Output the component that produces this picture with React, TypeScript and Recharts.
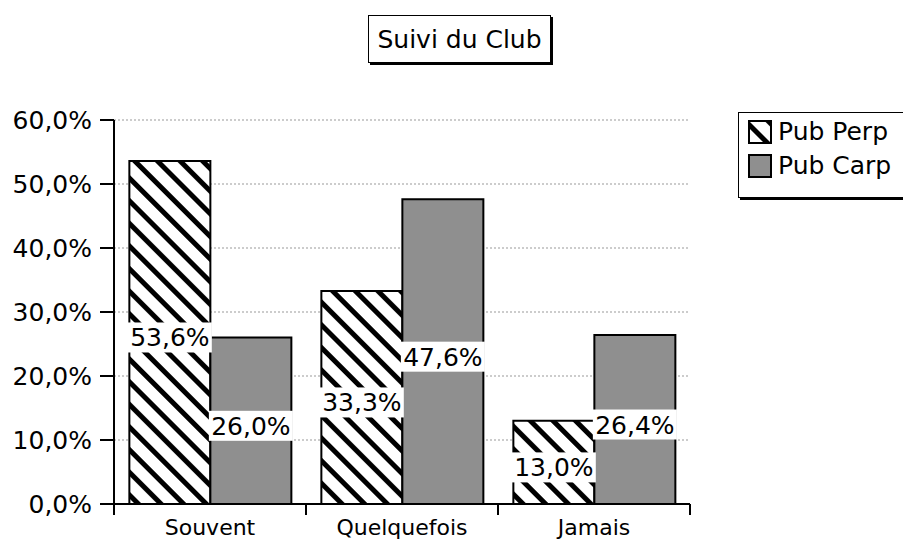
import { Bar, BarChart, CartesianGrid, LabelList, XAxis, YAxis } from 'recharts';

const categories = ['Souvent', 'Quelquefois', 'Jamais'];
const pubPerp = [53.6, 33.3, 13.0];
const pubCarp = [26.0, 47.6, 26.4];
const yTicks = [0, 10, 20, 30, 40, 50, 60];
const seriesNames = ['Pub Perp', 'Pub Carp'];
const title = 'Suivi du Club';

const data = categories.map((name, i) => ({ name, perp: pubPerp[i], carp: pubCarp[i] }));

const FONT = '"DejaVu Sans", Verdana, sans-serif';
const GRAY = '#8f8f8f';
const PLOT_LEFT = 114;
const PLOT_RIGHT = 690;
const BAND = (PLOT_RIGHT - PLOT_LEFT) / categories.length;

const fmt = (v: number) => `${v.toFixed(1).replace('.', ',')}%`;

function XTick(props: any) {
  const { x, y, payload, index } = props;
  const last = index === categories.length - 1;
  return (
    <g>
      <line x1={x - BAND / 2} y1={y} x2={x - BAND / 2} y2={y + 11} stroke="#000" strokeWidth={2} />
      {last && <line x1={x + BAND / 2} y1={y} x2={x + BAND / 2} y2={y + 11} stroke="#000" strokeWidth={2} />}
      <text x={x} y={y + 31} textAnchor="middle" fontSize={22} fontFamily={FONT} fill="#000">
        {payload.value}
      </text>
    </g>
  );
}

function ValueLabel(props: any) {
  const { x, y, width, height, value } = props;
  const cx = x + width / 2;
  const cy = y + height / 2 + 5;
  const w = 84;
  const h = 30;
  return (
    <g>
      <rect x={cx - w / 2} y={cy - h / 2} width={w} height={h} fill="#fff" />
      <text x={cx} y={cy + 9} textAnchor="middle" fontSize={25} fontFamily={FONT} fill="#000">
        {fmt(value)}
      </text>
    </g>
  );
}

function Swatch({ hatched }: { hatched: boolean }) {
  return (
    <svg width={24} height={24} style={{ display: 'block' }}>
      <defs>
        <pattern id="hatchLegend" patternUnits="userSpaceOnUse" width={16} height={16} patternTransform="rotate(45)">
          <rect width={16} height={16} fill="#fff" />
          <rect width={16} height={5} fill="#000" />
        </pattern>
      </defs>
      <rect x={1} y={1} width={22} height={22} fill={hatched ? 'url(#hatchLegend)' : GRAY} stroke="#000" strokeWidth={2} />
    </svg>
  );
}

export default function App() {
  return (
    <div style={{ position: 'absolute', left: 0, top: 0, width: 903, height: 546, background: '#fff', fontFamily: FONT }}>
      <div
        style={{
          position: 'absolute',
          left: 368,
          top: 15,
          width: 181,
          height: 46,
          border: '1.5px solid #000',
          boxShadow: '2px 2px 0 #000',
          display: 'flex',
          alignItems: 'center',
          justifyContent: 'center',
          fontSize: 25,
        }}
      >
        {title}
      </div>

      <div
        style={{
          position: 'absolute',
          left: 738,
          top: 112,
          width: 180,
          height: 84,
          border: '1.5px solid #000',
          boxShadow: '2px 2px 0 #000',
          background: '#fff',
          fontSize: 25,
        }}
      >
        {seriesNames.map((s, i) => (
          <div key={s} style={{ position: 'absolute', left: 9, top: 7 + i * 34, display: 'flex', alignItems: 'center', gap: 6, lineHeight: '24px' }}>
            <Swatch hatched={i === 0} />
            <span>{s}</span>
          </div>
        ))}
      </div>

      <BarChart
        width={903}
        height={546}
        data={data}
        margin={{ top: 120, right: 903 - PLOT_RIGHT, bottom: 0, left: 0 }}
        barCategoryGap="8%"
        barGap={0}
      >
        <defs>
          <pattern id="hatch" patternUnits="userSpaceOnUse" width={16} height={16} patternTransform="rotate(45)">
            <rect width={16} height={16} fill="#fff" />
            <rect width={16} height={5} fill="#000" />
          </pattern>
        </defs>
        <CartesianGrid vertical={false} stroke="#999" strokeDasharray="2 2" />
        <XAxis
          dataKey="name"
          height={42}
          tickSize={0}
          tickMargin={0}
          tickLine={false}
          axisLine={{ stroke: '#000', strokeWidth: 2 }}
          tick={<XTick />}
          interval={0}
        />
        <YAxis
          width={PLOT_LEFT}
          domain={[0, 60]}
          ticks={yTicks}
          tickFormatter={fmt}
          tickSize={14}
          tickMargin={8}
          axisLine={{ stroke: '#000', strokeWidth: 2 }}
          tickLine={{ stroke: '#000', strokeWidth: 2 }}
          tick={{ fill: '#000', fontSize: 25, fontFamily: FONT }}
        />
        <Bar dataKey="perp" name={seriesNames[0]} fill="url(#hatch)" stroke="#000" strokeWidth={2} isAnimationActive={false}>
          <LabelList dataKey="perp" content={<ValueLabel />} />
        </Bar>
        <Bar dataKey="carp" name={seriesNames[1]} fill={GRAY} stroke="#000" strokeWidth={2} isAnimationActive={false}>
          <LabelList dataKey="carp" content={<ValueLabel />} />
        </Bar>
      </BarChart>
    </div>
  );
}
